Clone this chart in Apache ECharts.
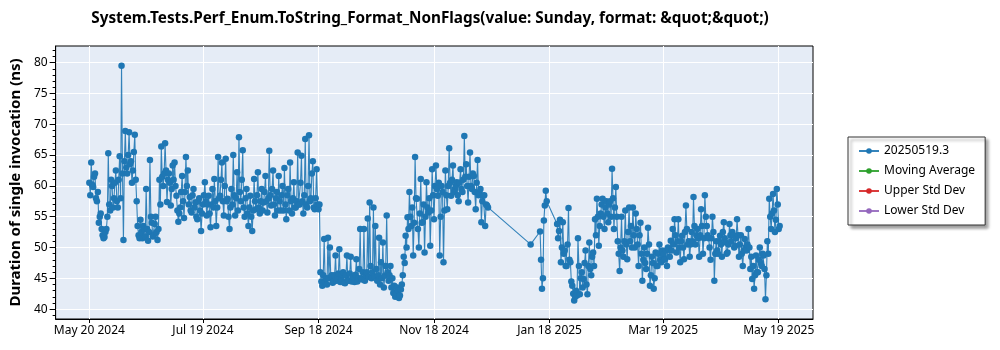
<!DOCTYPE html>
<html><head><meta charset="utf-8">
<script src="https://cdn.jsdelivr.net/npm/echarts@6/dist/echarts.min.js"></script>
<style>html,body{margin:0;padding:0;background:#fff}#c{width:1000px;height:350px}</style>
</head><body><div id="c"></div>
<script>
const chartTitle = 'System.Tests.Perf_Enum.ToString_Format_NonFlags(value: Sunday, format: &quot;&quot;)';
const yAxisTitle = 'Duration of single invocation (ns)';
const legendNames = ['20250519.3', 'Moving Average', 'Upper Std Dev', 'Lower Std Dev'];
const xTickDates = ['2024-05-20', '2024-07-19', '2024-09-18', '2024-11-18', '2025-01-18', '2025-03-19', '2025-05-19'];
const xTickLabels = ['May 20 2024', 'Jul 19 2024', 'Sep 18 2024', 'Nov 18 2024', 'Jan 18 2025', 'Mar 19 2025', 'May 19 2025'];
const yTickValues = [40, 45, 50, 55, 60, 65, 70, 75, 80];
const yMinorTickValues = [39, 41, 42, 43, 44, 46, 47, 48, 49, 51, 52, 53, 54, 56, 57, 58, 59, 61, 62, 63, 64, 66, 67, 68, 69, 71, 72, 73, 74, 76, 77, 78, 79, 81, 82];

// runs: each segment starts at the given date; one morning and one midday value per day
const segmentStarts = ['2024-05-20', '2025-01-08', '2025-01-13', '2025-01-22'];
const segment1Morning = [
  60.5,63.8,59.8,62.0,57.5,54.0,55.5,52.0,51.7,53.0,
  65.3,56.0,60.0,58.0,62.5,56.5,64.8,79.5,51.2,68.9,
  62.0,68.7,64.0,62.5,68.3,57.5,52.0,54.5,51.5,53.0,
  59.5,51.1,64.2,54.0,52.0,55.0,51.2,61.0,66.4,60.0,
  66.9,57.4,62.0,56.8,63.3,63.8,58.4,54.2,56.5,61.6,
  54.8,64.7,62.5,58.2,55.7,59.5,57.3,54.6,58.0,52.7,
  57.0,60.6,55.2,58.4,53.3,59.5,61.1,53.5,64.7,58.4,
  63.8,55.2,64.4,57.9,53.0,59.5,65.0,55.2,62.2,67.9,
  57.5,65.8,55.0,59.5,53.5,58.4,52.7,61.1,56.2,62.2,
  55.5,59.5,57.3,61.6,55.7,65.7,56.8,62.5,55.2,59.0,
  61.6,56.0,60.0,62.9,54.6,59.5,63.8,55.5,60.6,56.5,
  65.4,57.0,64.9,55.5,67.6,56.5,68.2,58.0,64.0,56.2,
  62.7,56.2,46.0,43.8,51.4,45.0,51.6,50.0,45.5,44.5,
  48.7,45.0,49.7,44.8,46.0,44.2,48.7,44.6,48.5,45.2,
  44.4,48.1,45.0,53.0,44.8,53.0,45.5,54.7,57.3,45.0,
  56.5,53.5,44.6,51.6,47.6,50.8,45.4,55.2,44.6,47.0,
  45.0,43.8,42.5,43.0,42.2,44.0,48.5,51.9,54.9,59.0,
  53.5,48.7,64.7,57.9,50.0,61.1,54.1,49.2,60.6,55.7,
  50.3,62.7,54.6,63.3,58.4,48.7,60.0,47.6,62.5,56.2,
  66.1,58.4,63.3,59.5,60.6,57.5,62.7,59.0,68.1,63.5,
  57.3,65.4,59.5,61.6,56.2,64.2,59.0,54.1,58.4,53.5,
  56.8
];
const segment1Midday = [
  58.5,60.2,61.5,58.0,59.0,55.0,53.0,51.5,52.5,55.0,
  57.0,61.0,56.5,60.5,57.5,61.0,58.0,62.0,64.0,63.0,
  65.0,63.5,60.5,65.5,61.0,53.5,51.5,52.5,53.5,51.8,
  53.0,52.5,55.0,51.8,53.8,52.5,53.0,57.0,61.5,62.0,
  62.5,61.0,60.5,59.5,61.0,60.0,56.0,55.5,59.0,57.5,
  59.0,60.0,57.0,56.0,58.5,56.5,55.0,57.5,56.0,55.5,
  58.5,57.5,57.0,55.5,57.0,56.5,57.5,56.5,58.0,61.0,
  57.5,60.0,57.5,55.0,56.5,57.0,58.5,58.0,56.0,59.0,
  61.0,56.5,58.0,55.5,56.5,55.0,56.0,57.5,58.5,56.5,
  57.5,56.0,59.0,57.5,58.0,58.5,59.5,57.0,58.0,56.0,
  57.5,58.5,56.0,57.0,58.5,56.0,57.5,58.0,56.5,57.5,
  57.0,60.5,57.5,58.5,57.0,60.0,57.5,62.0,56.5,58.0,
  57.0,57.0,44.5,45.5,44.5,44.0,45.0,45.2,44.3,45.5,
  44.6,45.8,44.4,45.6,44.3,45.5,44.7,45.8,44.5,45.0,
  45.6,44.5,46.5,45.0,46.0,44.6,46.0,45.2,47.0,46.0,
  45.3,46.5,45.5,44.0,45.0,43.5,47.0,46.0,45.5,43.5,
  42.6,42.0,43.5,41.8,43.2,45.5,47.5,50.0,53.0,55.0,
  56.5,54.0,58.0,53.0,55.5,54.0,57.0,55.0,56.5,58.0,
  56.0,58.5,60.0,59.5,60.5,55.0,59.0,56.0,58.5,60.0,
  60.5,61.0,59.0,60.0,58.5,60.5,59.5,61.0,61.5,60.0,
  61.5,60.0,62.0,59.0,60.5,58.5,59.5,57.5,58.5,57.0,
  56.5
];
const segment2Morning = [50.5];
const segment2Midday = [];
const segment3Morning = [52.6, 43.3, 54.4, 59.2];
const segment3Midday = [48.0, 45.0, 56.8, 57.5];
const segment4Morning = [
  53.8,52.7,47.6,54.1,49.5,47.0,56.4,47.6,43.8,41.4,
  43.0,51.5,42.4,46.0,44.9,49.5,42.4,50.8,45.5,49.2,
  54.6,57.9,50.3,55.5,57.9,53.0,57.5,54.1,57.5,62.8,
  53.0,59.8,51.0,46.2,55.0,48.5,56.0,48.1,56.5,53.5,
  56.5,50.0,53.0,47.0,54.0,44.6,50.0,46.5,53.2,43.8,
  48.5,43.3,49.2,47.0,50.5,47.6,48.8,48.1,47.0,49.7,
  51.1,53.0,54.6,49.2,54.6,47.6,51.9,48.1,56.8,50.5,
  48.5,52.5,58.2,50.5,53.0,48.5,56.2,49.0,58.5,53.5,
  51.5,48.0,55.0,44.6,51.0,49.0,51.9,48.5,54.1,50.8,
  49.2,53.8,51.0,52.0,50.3,54.6,48.5,52.0,47.0,51.4,
  49.5,53.0,46.5,44.9,43.3,48.7,46.0,50.0,47.0,48.7,
  41.6,51.0,57.9,53.0,58.7,52.5,59.5,53.0
];
const segment4Midday = [
  51.5,54.5,50.0,49.0,47.0,50.5,48.0,44.5,42.5,42.0,
  42.2,47.0,45.0,43.5,47.5,44.0,47.0,46.5,48.5,47.0,
  52.0,55.0,53.5,57.0,55.0,56.5,55.5,57.0,55.0,58.0,
  56.5,55.0,49.0,50.0,49.5,51.0,50.5,52.5,51.0,50.0,
  52.0,55.5,50.5,52.0,49.0,48.0,47.5,49.0,50.5,45.5,
  47.5,45.0,47.0,49.0,48.0,49.5,48.0,49.5,50.0,48.5,
  49.5,50.5,52.0,51.0,50.0,51.0,50.0,52.5,53.0,51.0,
  50.5,51.0,53.5,52.0,51.5,52.0,53.5,51.5,55.0,52.0,
  50.0,51.5,52.5,49.0,49.5,51.0,50.5,52.5,51.5,49.0,
  50.5,52.0,52.5,50.0,51.5,52.0,50.5,49.0,49.5,50.0,
  50.5,50.0,48.5,47.0,45.5,46.0,48.0,47.5,49.0,46.5,
  45.5,49.0,55.0,55.5,56.0,54.5,57.0,53.5
];

const DAY = 86400000;
const ts = s => Date.parse(s + 'T00:00:00Z');
const segMorning = [segment1Morning, segment2Morning, segment3Morning, segment4Morning];
const segMidday = [segment1Midday, segment2Midday, segment3Midday, segment4Midday];
const mainData = [];
segMorning.forEach((vals, k) => {
  const t0 = ts(segmentStarts[k]);
  vals.forEach((v, i) => {
    mainData.push([t0 + i * DAY, v]);
    if (segMidday[k][i] !== undefined) mainData.push([t0 + i * DAY + DAY / 2, segMidday[k][i]]);
  });
});
const xTicks = xTickDates.map(ts);
const labelFor = v => { const i = xTicks.indexOf(v); return i >= 0 ? xTickLabels[i] : ''; };

const FONT = 'Noto Sans';
const chart = echarts.init(document.getElementById('c'), null, {renderer: 'canvas'});
const lineSeries = (name, color, data) => ({
  name, type: 'line', data, xAxisIndex: 0, yAxisIndex: 0,
  symbol: 'circle', symbolSize: 6.5, showAllSymbol: true,
  color, itemStyle: {color}, lineStyle: {color, width: 1.1, opacity: 0.9},
  animation: false, z: 3
});
chart.setOption({
  animation: false,
  textStyle: {fontFamily: FONT},
  graphic: [{
    type: 'text', x: 430, y: 19,
    style: {text: chartTitle, textAlign: 'center', textVerticalAlign: 'middle',
      font: 'bold 15.3px "' + FONT + '"', fill: '#000'}
  }],
  grid: {left: 48, right: 187, top: 46, bottom: 31, show: true,
    backgroundColor: '#E5ECF6', borderColor: '#000', borderWidth: 1},
  xAxis: [{
    type: 'value', min: ts('2024-05-20') - 17.8 * DAY, max: ts('2025-05-19') + 18.1 * DAY,
    axisLine: {show: true, onZero: false, lineStyle: {color: '#000'}},
    axisTick: {show: true, length: 4, customValues: xTicks, lineStyle: {color: '#000'}},
    axisLabel: {customValues: xTicks, formatter: labelFor, color: '#000', fontSize: 12, margin: 6, fontFamily: FONT},
    splitLine: {show: true, lineStyle: {color: '#fff', width: 1}}
  }],
  yAxis: [{
    type: 'value', min: 38.4, max: 82.7,
    name: yAxisTitle, nameLocation: 'middle', nameGap: 28, nameRotate: 90,
    nameTextStyle: {fontSize: 15, fontWeight: 'bold', color: '#000', fontFamily: FONT},
    axisLine: {show: true, onZero: false, lineStyle: {color: '#000'}},
    axisTick: {show: true, length: 6, customValues: yTickValues, lineStyle: {color: '#000'}},
    axisLabel: {customValues: yTickValues, color: '#000', fontSize: 12, margin: 8, fontFamily: FONT},
    splitLine: {show: true, lineStyle: {color: '#fff', width: 1}}
  }, {
    type: 'value', min: 38.4, max: 82.7, position: 'left',
    axisLine: {show: false},
    axisTick: {show: true, length: 3, customValues: yMinorTickValues, lineStyle: {color: '#000'}},
    axisLabel: {show: false},
    splitLine: {show: false}
  }],
  legend: {
    orient: 'vertical', left: 848, top: 137,
    data: legendNames,
    itemWidth: 20, itemHeight: 7, itemGap: 8,
    padding: [8, 10, 8, 10],
    backgroundColor: '#fff', borderColor: '#333', borderWidth: 1, borderRadius: 0,
    shadowColor: 'rgba(0,0,0,0.4)', shadowBlur: 3, shadowOffsetX: 3, shadowOffsetY: 3,
    textStyle: {fontSize: 12, color: '#000', fontFamily: FONT}
  },
  series: [
    lineSeries(legendNames[0], '#1f77b4', mainData),
    lineSeries(legendNames[1], '#2ca02c', []),
    lineSeries(legendNames[2], '#d62728', []),
    lineSeries(legendNames[3], '#9467bd', [])
  ]
});
</script></body></html>
